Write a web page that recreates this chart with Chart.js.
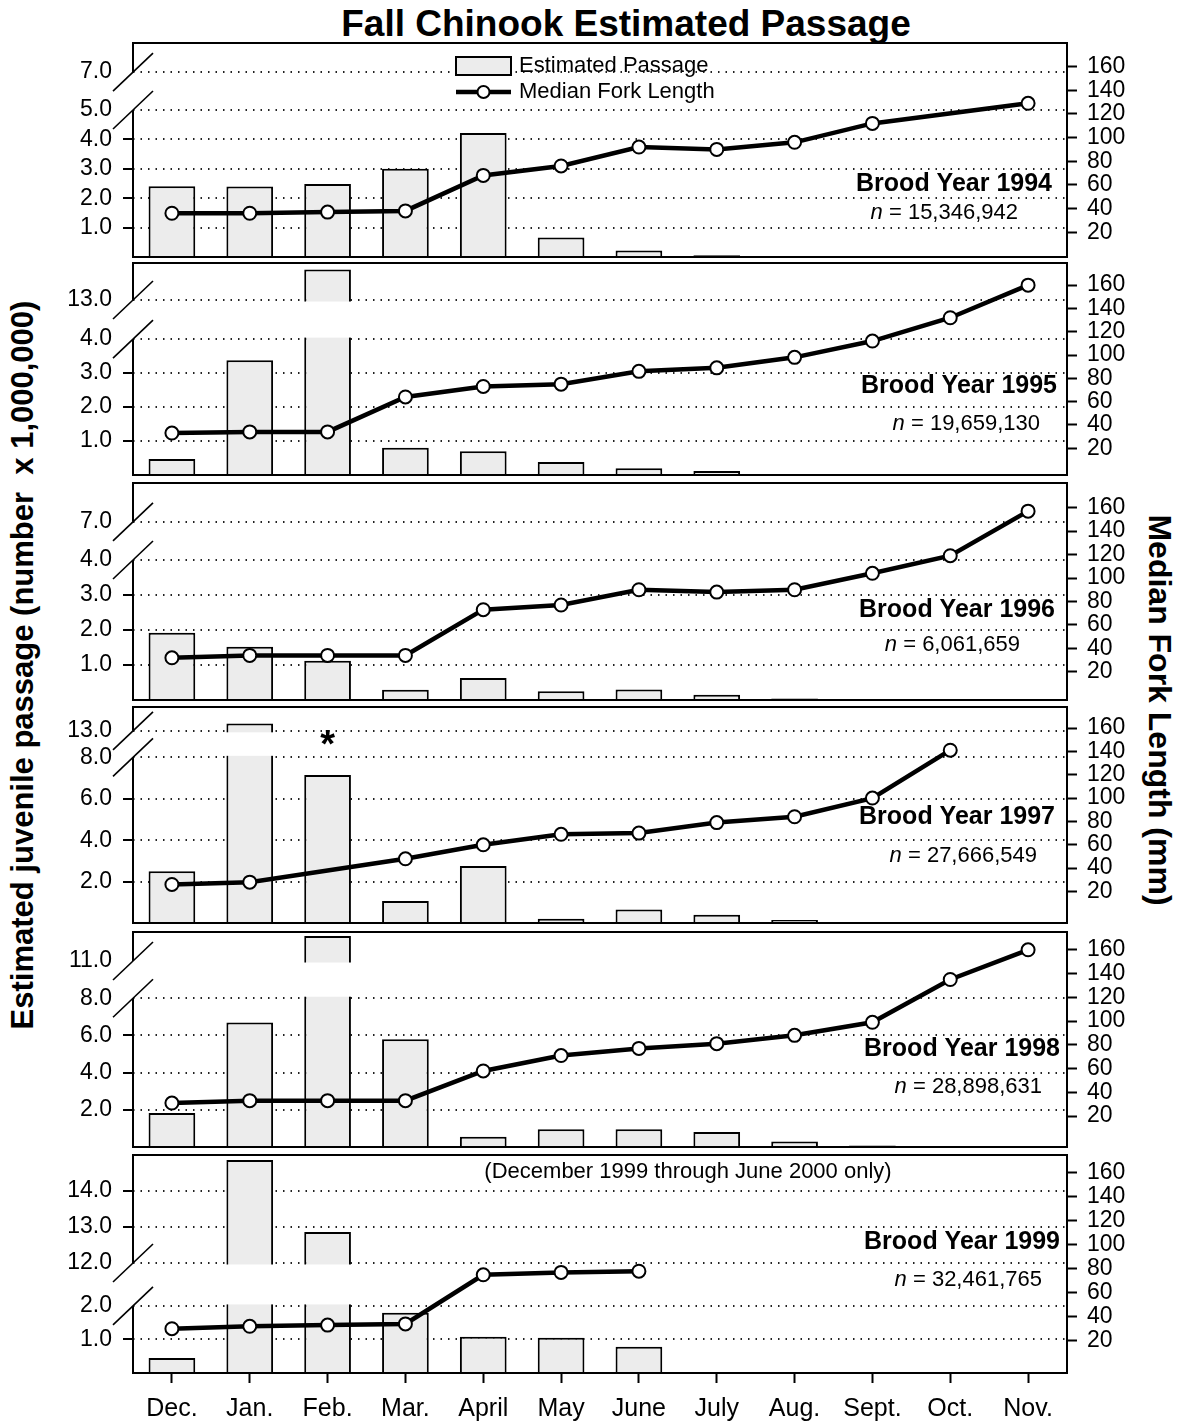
<!DOCTYPE html>
<html>
<head>
<meta charset="utf-8">
<title>Fall Chinook Estimated Passage</title>
<script src="https://cdn.jsdelivr.net/npm/chart.js@4.4.1/dist/chart.umd.min.js"></script>
<style>
  body { margin: 0; background: #fff; width: 1183px; height: 1425px; position: relative; overflow: hidden;
         font-family: 'Liberation Sans', Arial, sans-serif; color: #000; }
  canvas { position: absolute; left: 0; }
  .label { position: absolute; white-space: nowrap; font-weight: bold; line-height: 1; }
  #title { top: 5px; left: 626px; transform: translateX(-50%); font-size: 37px; }
  #leftTitle { left: 22px; top: 665px; font-size: 31px; transform: translate(-50%, -50%) rotate(-90deg); }
  #rightTitle { left: 1160px; top: 710px; font-size: 32px; transform: translate(-50%, -50%) rotate(90deg); }
</style>
</head>
<body>
<div id="title" class="label">Fall Chinook Estimated Passage</div>
<div id="leftTitle" class="label">Estimated juvenile passage (number&nbsp; x 1,000,000)</div>
<div id="rightTitle" class="label">Median Fork Length (mm)</div>
<script>
// months on the x axis
const months = ['Dec.', 'Jan.', 'Feb.', 'Mar.', 'April', 'May', 'June', 'July', 'Aug.', 'Sept.', 'Oct.', 'Nov.'];
const broodYears = ['1994', '1995', '1996', '1997', '1998', '1999'];
const totals = ['15,346,942', '19,659,130', '6,061,659', '27,666,549', '28,898,631', '32,461,765'];

// estimated passage, millions of fish
const passage1994 = [2.41, 2.40, 2.48, 3.0, 4.22, 0.66, 0.22, 0.06, 0, 0, 0, 0];
const passage1995 = [0.47, 3.38, 13.9, 0.8, 0.7, 0.38, 0.2, 0.12, 0, 0, 0, 0];
const passage1996 = [1.92, 1.52, 1.12, 0.29, 0.63, 0.25, 0.3, 0.15, 0.04, 0, 0, 0];
const passage1997 = [2.5, 13.35, 7.15, 1.06, 2.75, 0.2, 0.65, 0.4, 0.15, 0, 0, 0];
const passage1998 = [1.83, 6.7, 12.35, 5.8, 0.55, 0.95, 0.95, 0.8, 0.3, 0.08, 0, 0];
const passage1999 = [0.45, 14.86, 12.86, 1.8, 1.08, 1.05, 0.78, null, null, null, null, null];

// median fork length, mm
const fork1994 = [36, 36, 37, 38, 68, 76, 92, 90, 96, 112, null, 129];
const fork1995 = [33, 34, 34, 64, 73, 75, 86, 89, 98, 112, 132, 160];
const fork1996 = [32, 34, 34, 34, 73, 77, 90, 88, 90, 104, 119, 157];
const fork1997 = [26, 28, null, 48, 60, 69, 70, 79, 84, 100, 141, null];
const fork1998 = [31, 33, 33, 33, 58, 71, 77, 81, 88, 99, 135, 160];
const fork1999 = [30, 32, 33, 34, 75, 77, 78, null, null, null, null, null];

// tick labels
const passageTicks1994 = [1, 2, 3, 4, 5, 7];
const passageTicks1995 = [1, 2, 3, 4, 13];
const passageTicks1996 = [1, 2, 3, 4, 7];
const passageTicks1997 = [2, 4, 6, 8, 13];
const passageTicks1998 = [2, 4, 6, 8, 11];
const passageTicks1999 = [1, 2, 12, 13, 14];
const forkTicks = [20, 40, 60, 80, 100, 120, 140, 160];

const passage = [passage1994, passage1995, passage1996, passage1997, passage1998, passage1999];
const fork = [fork1994, fork1995, fork1996, fork1997, fork1998, fork1999];
const passageTicks = [passageTicks1994, passageTicks1995, passageTicks1996, passageTicks1997, passageTicks1998, passageTicks1999];

// page layout of each panel and its broken left axis
const panels = [
  { top: 43,   bottom: 257,  brk: { low: 5, high: 7,  gap: 1.29, k: 1,     top: 7.28 },  forkRange: [-1, 180], broodY: 141, nY: 170, broodR: 15, nR: 49 },
  { top: 263,  bottom: 475,  brk: { low: 4, high: 13, gap: 1.15, k: 1,     top: 6.24 },  forkRange: [-3, 179], broodY: 123, nY: 161, broodR: 10, nR: 27 },
  { top: 483,  bottom: 700,  brk: { low: 4, high: 7,  gap: 1.09, k: 1,     top: 6.2 },   forkRange: [-4, 181], broodY: 127, nY: 162, broodR: 12, nR: 47 },
  { top: 707,  bottom: 923,  brk: { low: 8, high: 13, gap: 1.28, k: 1,     top: 10.43 }, forkRange: [-7, 178], broodY: 110, nY: 149, broodR: 12, nR: 30 },
  { top: 932,  bottom: 1147, brk: { low: 8, high: 11, gap: 2.0,  k: 1,     top: 11.56 }, forkRange: [-6, 175], broodY: 117, nY: 155, broodR: 7,  nR: 25, hideGrid: [11] },
  { top: 1155, bottom: 1373, brk: { low: 2, high: 12, gap: 1.28, k: 1.075, top: 6.5 },   forkRange: [-7, 175], broodY: 87,  nY: 125, broodR: 7,  nR: 25 }
];

const FONT = "'Liberation Sans', Arial, sans-serif";
const barFill = '#ececec';
Chart.defaults.font.family = FONT;
Chart.defaults.color = '#000';

// linear scale with a break: values above the break are shifted down
class BrokenScale extends Chart.LinearScale {
  static id = 'broken';
  static defaults = {};

  mapValue(v) {
    const b = this.options.brk;
    if (v <= b.low) return v;
    if (v >= b.high) return b.low + b.gap + (v - b.high) * b.k;
    return b.low + (v - b.low) / (b.high - b.low) * b.gap;
  }
  determineDataLimits() {
    this.min = 0;
    this.max = this.options.brk.top;
  }
  buildTicks() {
    this.min = 0;
    this.max = this.options.brk.top;
    return this.options.brk.ticks.map(v => ({ value: v }));
  }
  getPixelForValue(v) {
    if (v === null || v === undefined) return NaN;
    return super.getPixelForValue(this.mapValue(v));
  }
}
Chart.register(BrokenScale);

// fixed axis widths, and no extra room for labels at the ends
function fitSide(width) {
  return s => {
    s.width = width;
    s.paddingTop = 0;
    s.paddingBottom = 0;
  };
}

const decoPlugin = {
  id: 'deco',
  afterDatasetDraw(chart, args) {
    // blank band over the break, under the fork length line
    if (args.index !== 0) return;
    const { ctx, chartArea: a, scales: { y } } = chart;
    const b = y.options.brk;
    const yHi = y.getPixelForValue(b.high);
    const yLo = y.getPixelForValue(b.low);
    ctx.save();
    ctx.fillStyle = '#fff';
    ctx.fillRect(a.left + 1, yHi + 1.5, a.right - a.left - 2, yLo - yHi - 3);
    ctx.restore();
  },
  afterDraw(chart, args, opts) {
    const { ctx, chartArea: a, scales: { x, y } } = chart;
    const b = y.options.brk;
    const yHi = y.getPixelForValue(b.high);
    const yLo = y.getPixelForValue(b.low);

    ctx.save();
    ctx.strokeStyle = '#000';
    ctx.lineWidth = 2;
    ctx.beginPath();
    ctx.moveTo(a.left, yHi);
    ctx.lineTo(a.left, a.top);
    ctx.lineTo(a.right, a.top);
    ctx.lineTo(a.right, a.bottom);
    ctx.lineTo(a.left, a.bottom);
    ctx.lineTo(a.left, yLo);
    ctx.stroke();

    // break marks
    ctx.lineWidth = 1.6;
    [yHi, yLo].forEach(py => {
      ctx.beginPath();
      ctx.moveTo(a.left - 20, py + 19);
      ctx.lineTo(a.left + 20, py - 19);
      ctx.stroke();
    });

    ctx.fillStyle = '#000';
    ctx.textBaseline = 'middle';
    ctx.textAlign = 'right';
    ctx.font = 'bold 25px ' + FONT;
    ctx.fillText('Brood Year ' + opts.year, a.right - opts.broodR, a.top + opts.broodY);

    const rest = ' = ' + opts.total;
    ctx.font = '22px ' + FONT;
    const restW = ctx.measureText(rest).width;
    const nx = a.right - opts.nR;
    ctx.fillText(rest, nx, a.top + opts.nY);
    ctx.font = 'italic 22px ' + FONT;
    ctx.fillText('n', nx - restW, a.top + opts.nY);

    if (opts.legend) {
      const lx = a.left + 323;
      ctx.fillStyle = barFill;
      ctx.fillRect(lx, a.top + 14, 55, 18);
      ctx.lineWidth = 2;
      ctx.strokeRect(lx, a.top + 14, 55, 18);
      ctx.lineWidth = 4.5;
      ctx.beginPath();
      ctx.moveTo(lx, a.top + 49);
      ctx.lineTo(lx + 55, a.top + 49);
      ctx.stroke();
      ctx.beginPath();
      ctx.arc(lx + 27.5, a.top + 49, 6, 0, Math.PI * 2);
      ctx.fillStyle = '#fff';
      ctx.fill();
      ctx.lineWidth = 2;
      ctx.stroke();
      ctx.fillStyle = '#000';
      ctx.textAlign = 'left';
      ctx.font = '22px ' + FONT;
      ctx.fillText('Estimated Passage', lx + 63, a.top + 23);
      ctx.fillText('Median Fork Length', lx + 63, a.top + 49);
    }
    if (opts.star) {
      ctx.textAlign = 'center';
      ctx.font = 'bold 38px ' + FONT;
      ctx.fillText('*', x.getPixelForValue(2), a.top + 40);
    }
    if (opts.note) {
      ctx.textAlign = 'center';
      ctx.font = '22px ' + FONT;
      ctx.fillText(opts.note, 688, a.top + 17);
    }
    ctx.restore();
  }
};

function makePanel(i) {
  const p = panels[i];
  const last = i === panels.length - 1;
  const axisH = last ? 52 : 0;
  const h = p.bottom - p.top + 4 + axisH;
  const canvas = document.createElement('canvas');
  canvas.width = 1183;
  canvas.height = h;
  canvas.style.top = (p.top - 2) + 'px';
  document.body.appendChild(canvas);

  const breakTicks = [p.brk.low, p.brk.high];
  const hidden = p.hideGrid || [];

  new Chart(canvas, {
    type: 'bar',
    data: {
      labels: months,
      datasets: [
        {
          type: 'bar',
          data: passage[i],
          yAxisID: 'y',
          backgroundColor: barFill,
          borderColor: '#000',
          borderWidth: 2,
          barPercentage: 0.6,
          categoryPercentage: 1,
          order: 2
        },
        {
          type: 'line',
          data: fork[i],
          yAxisID: 'y2',
          borderColor: '#000',
          borderWidth: 4.5,
          pointRadius: 6.5,
          pointBackgroundColor: '#fff',
          pointBorderColor: '#000',
          pointBorderWidth: 2,
          spanGaps: true,
          tension: 0,
          clip: false,
          order: 1
        }
      ]
    },
    options: {
      responsive: false,
      animation: false,
      devicePixelRatio: 1,
      layout: { autoPadding: false, padding: { top: 2, bottom: 2, left: 0, right: 0 } },
      plugins: {
        legend: { display: false },
        tooltip: { enabled: false },
        deco: {
          year: broodYears[i],
          total: totals[i],
          broodY: p.broodY,
          nY: p.nY,
          broodR: p.broodR,
          nR: p.nR,
          legend: i === 0,
          star: i === 3,
          note: last ? '(December 1999 through June 2000 only)' : null
        }
      },
      scales: {
        x: {
          display: last,
          offset: true,
          grid: { drawOnChartArea: false, offset: false, tickLength: 10, tickWidth: 2, tickColor: '#000' },
          border: { display: false },
          ticks: { color: '#000', font: { size: 25 }, padding: 11, maxRotation: 0, autoSkip: false },
          afterFit: s => { s.height = axisH; s.paddingLeft = 0; s.paddingRight = 0; }
        },
        y: {
          type: 'broken',
          position: 'left',
          brk: { low: p.brk.low, high: p.brk.high, gap: p.brk.gap, k: p.brk.k, top: p.brk.top, ticks: passageTicks[i] },
          grid: {
            color: c => (c.tick && hidden.includes(c.tick.value)) ? 'rgba(0,0,0,0)' : '#222',
            lineWidth: 2,
            tickLength: 10,
            tickWidth: 2,
            tickBorderDash: [],
            tickColor: c => (c.tick && breakTicks.includes(c.tick.value)) ? 'rgba(0,0,0,0)' : '#000'
          },
          border: { display: false, dash: [1.5, 6] },
          ticks: { color: '#000', font: { size: 23 }, padding: 11, autoSkip: false, callback: v => Number(v).toFixed(1) },
          afterFit: fitSide(133)
        },
        y2: {
          type: 'linear',
          position: 'right',
          min: p.forkRange[0],
          max: p.forkRange[1],
          afterBuildTicks: s => { s.ticks = forkTicks.map(v => ({ value: v })); },
          grid: { drawOnChartArea: false, tickLength: 10, tickWidth: 2, tickColor: '#000' },
          border: { display: false },
          ticks: { color: '#000', font: { size: 23 }, padding: 10, autoSkip: false },
          afterFit: fitSide(116)
        }
      }
    },
    plugins: [decoPlugin]
  });
}

panels.forEach((p, i) => makePanel(i));
</script>
</body>
</html>
